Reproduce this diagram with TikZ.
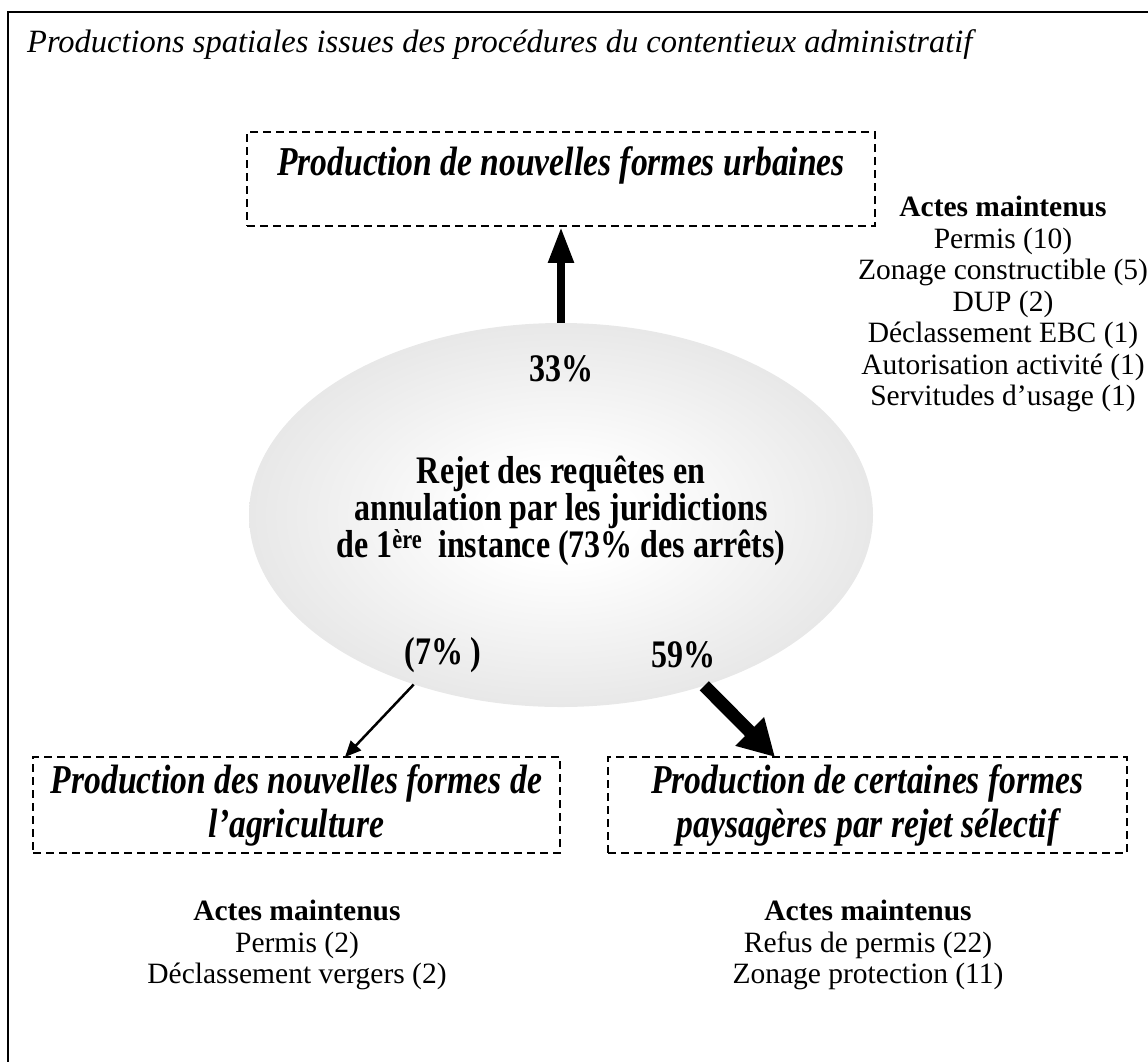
\documentclass[tikz,border=0pt]{standalone}
\usepackage{fontspec}
\setmainfont{Liberation Serif}
\newfontfamily\cond[FakeStretch=0.82]{Liberation Serif}
\usetikzlibrary{shapes.geometric,arrows.meta}
\pgfdeclareradialshading{ellgrad}{\pgfpoint{0bp}{0bp}}{color(0bp)=(white); color(6bp)=(white); color(50bp)=(black!21); color(100bp)=(black!21)}
\begin{document}
\begin{tikzpicture}[x=1pt,y=-1pt,
  dbox/.style={draw, dash pattern=on 8pt off 5pt, line width=1.8pt, inner sep=0pt},
  boxtxt/.style={font=\cond\bfseries\itshape\fontsize{41}{44}\selectfont, align=center},
  elltxt/.style={font=\cond\bfseries\fontsize{39}{37}\selectfont, align=center},
  pct/.style={font=\cond\bfseries\fontsize{39}{40}\selectfont},
  listtxt/.style={font=\fontsize{29.5}{31.5}\selectfont, align=center},
  thin arrow/.style={line width=2.5pt, -{Triangle[length=16pt,width=14pt]}},
  mid arrow/.style={line width=8pt, -{Triangle[length=36pt,width=24pt]}},
  fat arrow/.style={line width=13pt, -{Triangle[length=36pt,width=38pt]}}
]
\useasboundingbox (0,0) rectangle (1148,1061);
\clip (0,0) rectangle (1148,1061);
\draw[line width=2pt] (8,12) rectangle (1180,1090);
\node[anchor=base west, font=\itshape\fontsize{32.5}{36}\selectfont, inner sep=0pt] (title) at (27,52) {Productions spatiales issues des procédures du contentieux administratif};

\node[dbox, minimum width=628pt, minimum height=94pt] (ub) at (561,179) {};
\node[boxtxt] (ubt) at (561,165) {Production de nouvelles formes urbaines};

\node[listtxt] (l1) at (1003,304) {\textbf{Actes maintenus}\\Permis (10)\\Zonage constructible (5)\\DUP (2)\\Déclassement EBC (1)\\Autorisation activité (1)\\Servitudes d’usage (1)};

\node[ellipse, shading=ellgrad, minimum width=624pt, minimum height=384pt, inner sep=0pt] (el) at (561,515) {};
\node[elltxt] (elt) at (561,511) {Rejet des requêtes en\\annulation par les juridictions\\de 1\textsuperscript{ère}\ \ instance (73\% des arrêts)};
\node[pct] (p33) at (561,369) {33\%};
\node[pct] (p7) at (443,655) {(7\% )};
\node[pct] (p59) at (683,655) {59\%};

\node[dbox, boxtxt, minimum width=527pt, minimum height=96pt] (ab) at (296.5,805) {Production des nouvelles formes de\\l’agriculture};
\node[dbox, boxtxt, minimum width=519pt, minimum height=96pt] (pb) at (867.5,805) {Production de certaines formes\\paysagères par rejet sélectif};

\node[listtxt] (l2) at (297,945) {\textbf{Actes maintenus}\\Permis (2)\\Déclassement vergers (2)};
\node[listtxt] (l3) at (868,945) {\textbf{Actes maintenus}\\Refus de permis (22)\\Zonage protection (11)};

\coordinate (lt) at (345,757);
\coordinate (rt) at (775,757);
\draw[mid arrow] (el) -- (ub);
\draw[thin arrow] (el.229.5) -- (lt);
\draw[fat arrow] (el.310.5) -- (rt);
\end{tikzpicture}
\end{document}
